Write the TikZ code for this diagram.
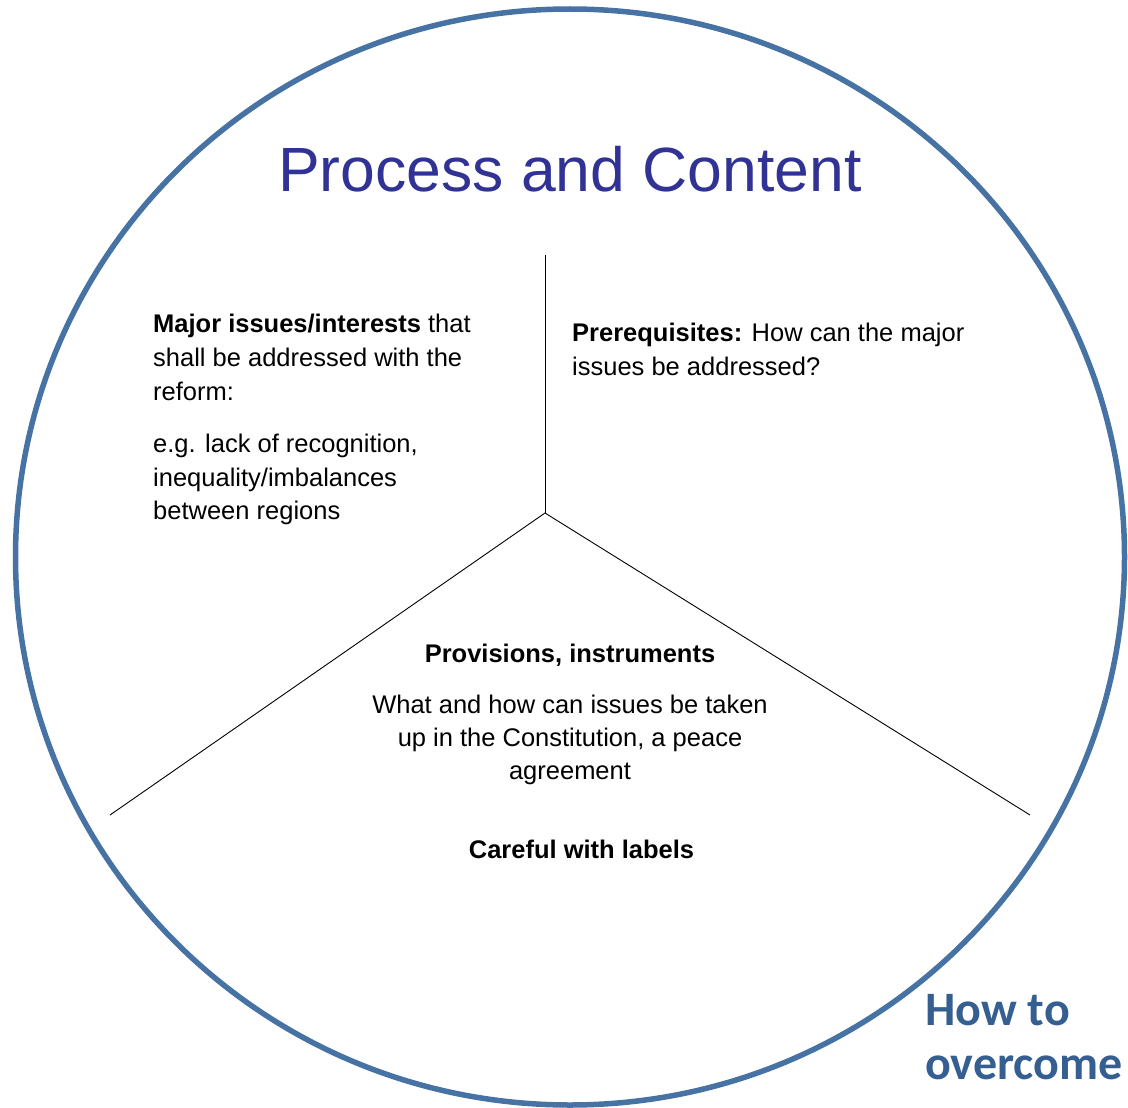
\documentclass[tikz,border=0pt]{standalone}
\usepackage{fontspec}
\setmainfont{Liberation Sans}
\newfontfamily\calibrifont{Carlito}
\definecolor{ringblue}{RGB}{70,114,164}
\definecolor{titleblue}{RGB}{48,50,148}
\definecolor{headblue}{RGB}{54,95,145}
\begin{document}
\begin{tikzpicture}[x=1pt,y=-1pt,
  ring/.style={draw=ringblue, line width=5.5pt},
  spoke/.style={draw=black, line width=0.9pt},
  bodyline/.style={inner sep=0pt, font=\fontsize{25.5}{34}\selectfont},
  titletext/.style={inner sep=0pt, text=titleblue, font=\fontsize{62.5}{70}\selectfont},
  cornertext/.style={inner sep=0pt, anchor=base west, text=headblue, font=\calibrifont\bfseries\fontsize{48}{53}\selectfont}]
\useasboundingbox (0,0) rectangle (1128,1108);
\path[ring] (570,557) ellipse [x radius=554.5, y radius=548];

\coordinate (hub) at (545,513);
\coordinate (top) at (545,255);
\coordinate (lft) at (110,815);
\coordinate (rgt) at (1030,815);
\draw[spoke] (top) -- (hub);
\draw[spoke] (hub) -- (lft);
\draw[spoke] (hub) -- (rgt);

\node[titletext, anchor=base] (title) at (570,191) {Process and Content};

\node[bodyline, anchor=base west] (m1) at (153,332) {\textbf{Major issues/interests} that};
\node[bodyline, anchor=base west] (m2) at (153,366) {shall be addressed with the};
\node[bodyline, anchor=base west] (m3) at (153,400) {reform:};
\node[bodyline, anchor=base west] (m4) at (153,452) {e.g. lack of recognition,};
\node[bodyline, anchor=base west] (m5) at (153,486) {inequality/imbalances};
\node[bodyline, anchor=base west] (m6) at (153,519) {between regions};

\node[bodyline, anchor=base west] (p1) at (572,341) {\textbf{Prerequisites:} How can the major};
\node[bodyline, anchor=base west] (p2) at (572,375) {issues be addressed?};

\node[bodyline, anchor=base] (v1) at (570,662) {\textbf{Provisions, instruments}};
\node[bodyline, anchor=base] (v2) at (570,713) {What and how can issues be taken};
\node[bodyline, anchor=base] (v3) at (570,746) {up in the Constitution, a peace};
\node[bodyline, anchor=base] (v4) at (570,779) {agreement};
\node[bodyline, anchor=base] (v5) at (581.5,858) {\textbf{Careful with labels}};

\node[cornertext] (h1) at (925,1025) {How to};
\node[cornertext] (h2) at (925,1079) {overcome};
\end{tikzpicture}
\end{document}
